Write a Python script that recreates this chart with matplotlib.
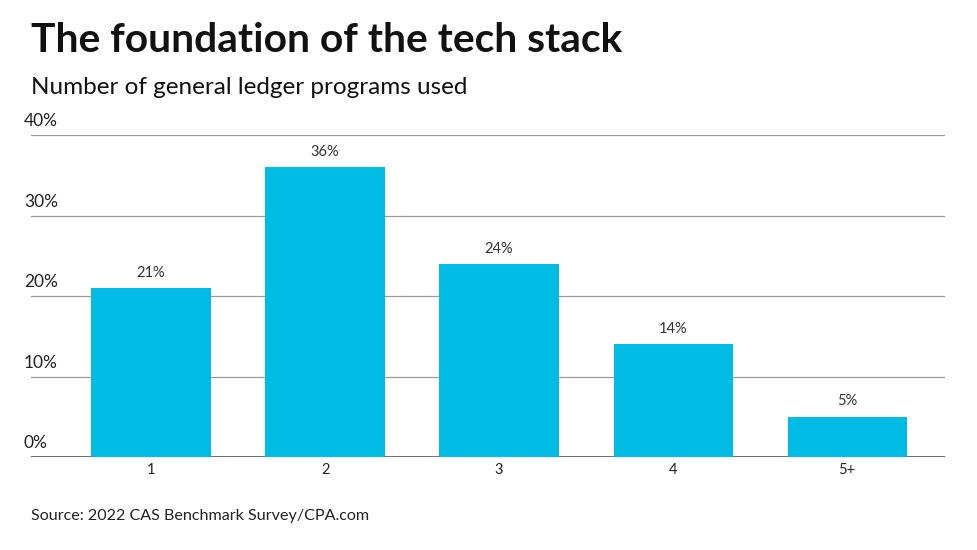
import matplotlib.pyplot as plt

plt.rcParams['font.family'] = ['Lato', 'DejaVu Sans']

# 数据
categories = ['1', '2', '3', '4', '5+']
values = [21, 36, 24, 14, 5]
y_ticks = [0, 10, 20, 30, 40]

fig = plt.figure(figsize=(9.78, 5.5), dpi=100)
ax = fig.add_axes([0.0317, 0.169, 0.935, 0.5855])

x = range(len(categories))
bars = ax.bar(x, values, width=0.685, color='#00BCE4', zorder=3)

# 柱子上的标签
for bar, v in zip(bars, values):
    ax.annotate(f'{v}%', (bar.get_x() + bar.get_width() / 2, bar.get_height()),
                xytext=(0, 6), textcoords='offset points',
                ha='center', va='bottom', fontsize=10.5, color='#333333')

ax.set_xlim(-0.69, len(categories) - 1 + 0.565)
ax.set_ylim(0, 40)
ax.set_xticks(list(x))
ax.set_xticklabels(categories, fontsize=10.5, color='#222222')
ax.tick_params(axis='x', length=0, pad=4)

# 网格线和y轴标签(放在线的上方)
ax.set_yticks([])
for t in y_ticks:
    ax.axhline(t, color='#555555' if t == 0 else '#999999',
               lw=1.2 if t == 0 else 0.9, zorder=1)
    ax.annotate(f'{t}%', (0, t), xycoords=('figure fraction', 'data'),
                xytext=(24, 6), textcoords='offset pixels',
                ha='left', va='bottom', fontsize=12.5, color='#222222',
                annotation_clip=False)

for s in ax.spines.values():
    s.set_visible(False)

fig.text(0.032, 0.905, 'The foundation of the tech stack', fontsize=29.3,
         fontweight='bold', ha='left', va='baseline', color='#111111')
fig.text(0.032, 0.83, 'Number of general ledger programs used', fontsize=17.5,
         ha='left', va='baseline', color='#111111')
fig.text(0.032, 0.055, 'Source: 2022 CAS Benchmark Survey/CPA.com', fontsize=11.6,
         ha='left', va='baseline', color='#222222')

fig.savefig('out.png', dpi=100)
